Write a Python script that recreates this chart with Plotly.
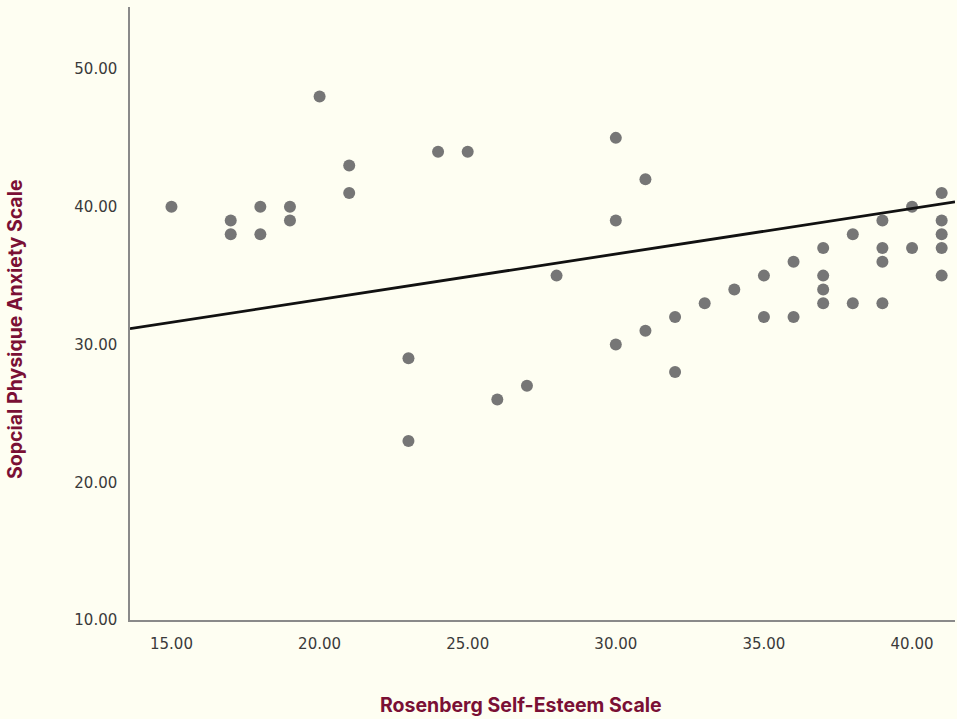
import plotly.graph_objects as go

# Data
rse = [15, 17, 17, 18, 18, 19, 19, 20, 21, 21, 23, 23, 24, 25, 26, 27, 28,
       30, 30, 30, 31, 31, 32, 32, 33, 34, 35, 35, 36, 36, 37, 37, 37, 37,
       38, 38, 39, 39, 39, 39, 40, 40, 41, 41, 41, 41, 41]
spas = [40, 39, 38, 40, 38, 40, 39, 48, 43, 41, 29, 23, 44, 44, 26, 27, 35,
        45, 39, 30, 42, 31, 32, 28, 33, 34, 35, 32, 36, 32, 37, 35, 34, 33,
        38, 33, 39, 37, 36, 33, 40, 37, 41, 39, 38, 37, 35]

fit_x = [13.6, 41.45]
fit_y = [31.15, 40.35]

x_ticks = [15, 20, 25, 30, 35, 40]
x_tick_labels = ["15.00", "20.00", "25.00", "30.00", "35.00", "40.00"]
y_ticks = [10, 20, 30, 40, 50]
y_tick_labels = ["10.00", "20.00", "30.00", "40.00", "50.00"]

x_title = "Rosenberg Self-Esteem Scale"
y_title = "Sopcial Physique Anxiety Scale"

bg = "#FEFEF2"
title_color = "#7A1035"

W, H = 957, 719
ML, MR, MT, MB = 130, 2, 7, 99

fig = go.Figure()
fig.add_trace(go.Scatter(
    x=rse, y=spas, mode="markers",
    marker=dict(size=12, color="#767676", line=dict(width=0)),
    showlegend=False, hoverinfo="x+y"))
fig.add_trace(go.Scatter(
    x=fit_x, y=fit_y, mode="lines",
    line=dict(color="#111111", width=2.8),
    showlegend=False, hoverinfo="skip"))

pw = W - ML - MR
ph = H - MT - MB

fig.update_layout(
    width=W, height=H,
    paper_bgcolor=bg, plot_bgcolor=bg,
    margin=dict(l=ML, r=MR, t=MT, b=MB),
    font=dict(family="DejaVu Sans", size=15, color="#3a3a3a"),
    xaxis=dict(range=[13.6, 41.45], tickvals=x_ticks, ticktext=x_tick_labels,
               showgrid=False, zeroline=False, showline=True,
               linecolor="#8a8a8a", linewidth=1.5, ticks="",
               ticklabelstandoff=9, tickfont=dict(size=15, color="#3a3a3a")),
    yaxis=dict(range=[10, 54.5], tickvals=y_ticks, ticktext=y_tick_labels,
               showgrid=False, zeroline=False, showline=True,
               linecolor="#8a8a8a", linewidth=1.5, ticks="",
               ticklabelstandoff=8, tickfont=dict(size=15, color="#3a3a3a")),
    annotations=[
        dict(text=f"<b>{x_title}</b>", x=(521 - ML) / pw, y=(H - MB - 705) / ph,
             xanchor="center", yanchor="middle",
             xref="paper", yref="paper", showarrow=False,
             font=dict(family="Inter", size=19.5, color=title_color)),
        dict(text=f"<b>{y_title}</b>", x=(15 - ML) / pw, y=(H - MB - 329) / ph,
             xanchor="center", yanchor="middle",
             textangle=-90, xref="paper", yref="paper", showarrow=False,
             font=dict(family="Inter", size=19.5, color=title_color)),
    ],
)

fig.write_html("out.html", config={"displayModeBar": False},
               post_script="document.body.style.margin='0';document.body.style.background='%s';" % bg)
